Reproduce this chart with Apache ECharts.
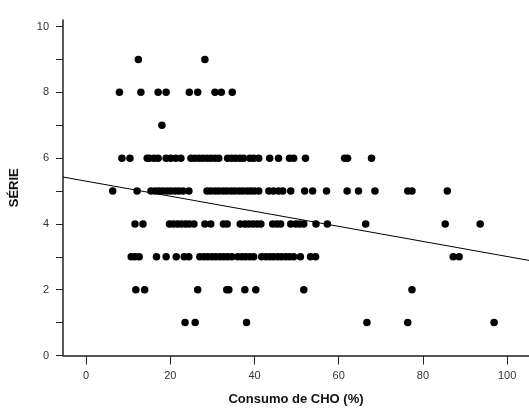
<!DOCTYPE html>
<html>
<head>
<meta charset="utf-8">
<script src="https://cdn.jsdelivr.net/npm/echarts@6/dist/echarts.min.js"></script>
<style>
  html, body { margin: 0; padding: 0; background: #fff; }
  #chart { width: 529px; height: 412px; }
</style>
</head>
<body>
<div id="chart"></div>
<script>
// Consumo de CHO (%) for each SÉRIE level
const serie1 = [23.5, 25.9, 38.1, 66.7, 76.4, 96.9];
const serie2 = [11.8, 13.9, 26.5, 33.4, 33.9, 37.7, 40.3, 51.7, 77.4];
const serie3 = [10.7, 11.6, 12.6, 16.7, 19.0, 21.4, 23.3, 24.4, 27.0, 28.0, 28.9, 29.9,
  30.8, 31.8, 32.7, 33.6, 34.6, 36.0, 37.0, 37.9, 38.9, 39.8, 41.7, 42.7, 43.6, 44.5,
  45.5, 46.4, 47.4, 48.3, 49.3, 50.9, 53.3, 54.5, 87.2, 88.6];
const serie4 = [11.6, 13.5, 19.8, 20.7, 21.7, 22.6, 23.6, 24.5, 25.6, 28.2, 29.6, 32.6,
  33.5, 36.6, 37.7, 38.6, 39.6, 40.6, 41.5, 44.3, 45.3, 46.2, 48.6, 49.8, 50.7, 51.7,
  54.6, 57.3, 66.4, 85.3, 93.6];
const serie5 = [6.3, 12.1, 15.4, 16.4, 17.3, 18.2, 19.2, 20.1, 21.1, 22.0, 23.0, 24.4,
  28.7, 29.6, 30.6, 31.5, 32.5, 33.4, 34.4, 35.3, 36.3, 37.2, 38.2, 39.1, 40.0, 41.0,
  43.4, 44.5, 45.7, 46.7, 48.6, 51.9, 53.8, 57.1, 62.0, 64.7, 68.6, 76.4, 77.4, 85.8];
const serie6 = [8.5, 10.4, 14.5, 15.0, 16.1, 17.1, 19.0, 20.1, 21.3, 22.5, 24.9, 25.8,
  26.8, 27.7, 28.7, 29.6, 30.6, 31.5, 33.6, 34.6, 35.5, 36.5, 37.4, 38.9, 39.8, 41.0,
  43.6, 45.7, 48.3, 49.3, 52.1, 61.4, 62.1, 67.8];
const serie7 = [18.0];
const serie8 = [7.9, 13.0, 17.1, 19.0, 24.5, 26.5, 30.6, 32.1, 34.7];
const serie9 = [12.4, 28.2];

// Fitted linear trend: SÉRIE = intercept + slope * CHO
const fitIntercept = 5.30;
const fitSlope = -0.0229;

// Axis ticks and labels
const xTicks = [0, 20, 40, 60, 80, 100];
const yTicks = [0, 1, 2, 3, 4, 5, 6, 7, 8, 9, 10];
const yLabels = [0, 2, 4, 6, 8, 10];
const xRange = [-5.5, 105.2];
const yRange = [0, 10.2];

const levels = [serie1, serie2, serie3, serie4, serie5, serie6, serie7, serie8, serie9];
const points = [];
levels.forEach((xs, i) => xs.forEach(x => points.push([x, i + 1])));

const fitLine = xRange.map(x => [x, fitIntercept + fitSlope * x]);

const axisColor = '#222';
const labelFont = { color: '#333', fontSize: 11, fontFamily: 'Liberation Sans, Arial, sans-serif' };
const nameFont = { color: '#111', fontSize: 13, fontWeight: 'bold', fontFamily: 'Liberation Sans, Arial, sans-serif' };

const chart = echarts.init(document.getElementById('chart'), null, { renderer: 'canvas' });
chart.setOption({
  animation: false,
  backgroundColor: '#fff',
  grid: { left: 62, right: 0, top: 20, bottom: 56.5, containLabel: false },
  xAxis: {
    type: 'value',
    min: xRange[0],
    max: xRange[1],
    name: 'Consumo de CHO (%)',
    nameLocation: 'middle',
    nameGap: 37,
    nameTextStyle: nameFont,
    axisLine: { show: true, onZero: false, lineStyle: { color: axisColor, width: 1.5 } },
    axisTick: { show: true, length: 9, customValues: xTicks, lineStyle: { color: axisColor, width: 1 } },
    axisLabel: Object.assign({ margin: 15, customValues: xTicks }, labelFont),
    splitLine: { show: false }
  },
  yAxis: {
    type: 'value',
    min: yRange[0],
    max: yRange[1],
    name: 'SÉRIE',
    nameLocation: 'middle',
    nameGap: 42,
    nameRotate: 90,
    nameTextStyle: nameFont,
    axisLine: { show: true, onZero: false, lineStyle: { color: axisColor, width: 1.5 } },
    axisTick: { show: true, length: 7, customValues: yTicks, lineStyle: { color: axisColor, width: 1 } },
    axisLabel: Object.assign({ margin: 14, customValues: yLabels }, labelFont),
    splitLine: { show: false }
  },
  series: [
    {
      type: 'scatter',
      data: points,
      symbol: 'circle',
      symbolSize: 7.5,
      itemStyle: { color: '#000', opacity: 1 },
      silent: true
    },
    {
      type: 'line',
      data: fitLine,
      symbol: 'none',
      lineStyle: { color: '#000', width: 1 },
      silent: true
    }
  ]
});
</script>
</body>
</html>
